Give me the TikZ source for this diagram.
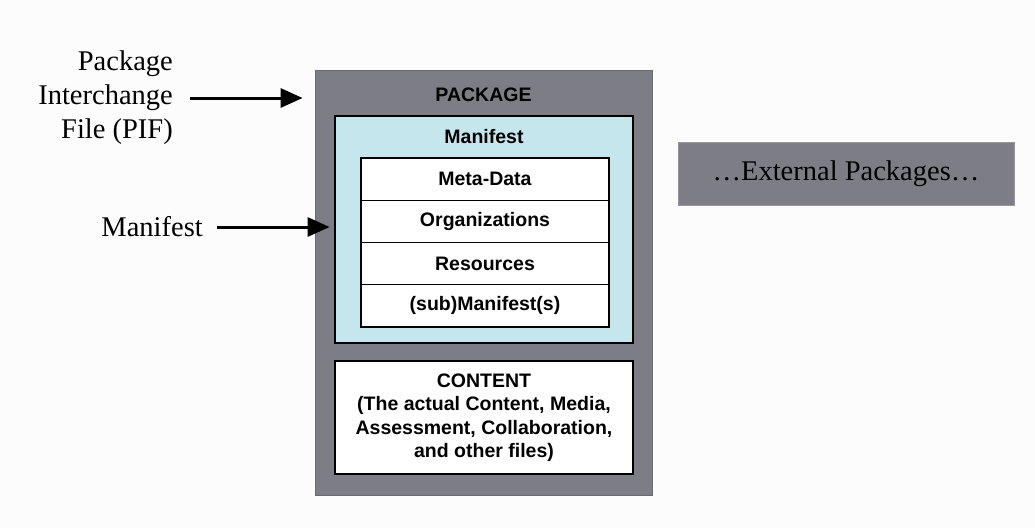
\documentclass[tikz,border=0pt]{standalone}
\usepackage{fontspec}
\setmainfont{Liberation Serif}
\setsansfont{Liberation Sans}
\usetikzlibrary{arrows.meta}
\definecolor{pkggray}{RGB}{124,125,133}
\definecolor{manblue}{RGB}{198,230,238}
\definecolor{bgwhite}{RGB}{252,252,252}
\tikzset{
  serif/.style={font=\fontsize{28.5}{34}\selectfont, inner sep=0pt},
  sanslbl/.style={font=\sffamily\bfseries\fontsize{19.5}{23.5}\selectfont, inner sep=0pt},
  graybox/.style={rectangle, fill=pkggray, draw=pkggray!85!black, line width=0.8pt, inner sep=0pt},
  manbox/.style={rectangle, fill=manblue, draw=black, line width=1.6pt, inner sep=0pt},
  rowbox/.style={rectangle, fill=white, draw=black, line width=1.3pt, minimum width=248pt, minimum height=42.25pt, inner sep=0pt, font=\sffamily\bfseries\fontsize{19.5}{23.5}\selectfont},
  contbox/.style={rectangle, fill=white, draw=black, line width=1.5pt, inner sep=0pt, align=center, font=\sffamily\bfseries\fontsize{19.5}{23.5}\selectfont},
  arr/.style={line width=3pt, -{Triangle[length=22pt,width=19pt]}},
}
\begin{document}
\begin{tikzpicture}[x=1pt,y=-1pt]
\fill[bgwhite] (0,0) rectangle (1035,528);
\useasboundingbox (0,0) rectangle (1035,528);
% package
\node[graybox, minimum width=337pt, minimum height=425pt] (pkg) at (483.5,282.5) {};
\node[sanslbl] (pkglbl) at (483.5,95) {PACKAGE};
% manifest
\node[manbox, minimum width=298pt, minimum height=227pt] (man) at (484,229.5) {};
\node[sanslbl] (manlbl2) at (484,137) {Manifest};
\node[rowbox] (r1) at (485,179.1) {Meta-Data};
\node[rowbox] (r2) at (485,221.4) {Organizations};
\node[rowbox] (r3) at (485,263.6) {Resources};
\node[rowbox] (r4) at (485,305.9) {(sub)Manifest(s)};
% content
\node[contbox, minimum width=298pt, minimum height=113pt] (cont) at (484,417.5) {CONTENT\\(The actual Content, Media,\\Assessment, Collaboration,\\and other files)};
% external
\node[graybox, minimum width=336pt, minimum height=63pt, draw=pkggray!80!white, serif] (ext) at (846,173.5) {\raisebox{-1pt}{\dots External Packages\dots}};
% left labels
\node[serif, align=right, anchor=east] (pif) at (173,98) {Package\\Interchange\\File (PIF)};
\node[serif, anchor=east] (manlbl) at (203,227) {Manifest};
% arrows
\draw[arr] ([xshift=17pt]pif.east) -- ([xshift=-12pt]pif.east -| pkg.west);
\draw[arr] ([xshift=14pt]manlbl.east) -- ([xshift=15pt]manlbl.east -| pkg.west);
\end{tikzpicture}
\end{document}
